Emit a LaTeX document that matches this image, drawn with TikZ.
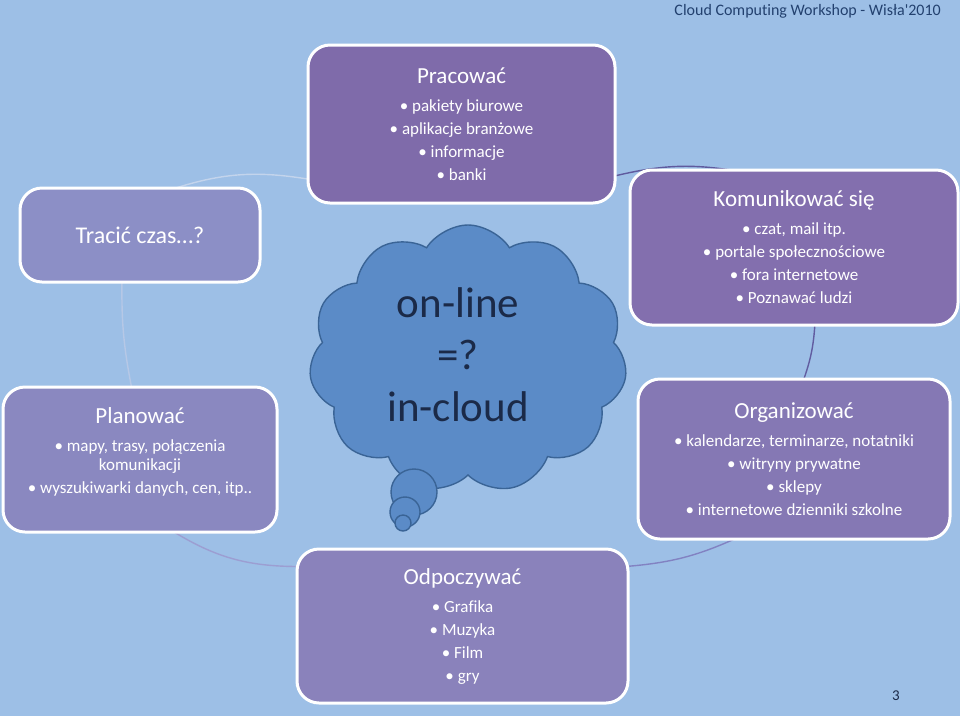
\documentclass[tikz,border=0pt]{standalone}
\usepackage{fontspec}
\setmainfont{Carlito}[Ligatures={TeXOff,NoCommon}]
\usetikzlibrary{shapes.symbols}
\definecolor{bg}{HTML}{9DBFE6}
\definecolor{cprac}{HTML}{7F6BAA}
\definecolor{ckom}{HTML}{836FAE}
\definecolor{corg}{HTML}{8578B4}
\definecolor{codp}{HTML}{8A82BB}
\definecolor{cplan}{HTML}{8A88C0}
\definecolor{ctra}{HTML}{8C8FC6}
\definecolor{cloudfill}{HTML}{5B8BC7}
\definecolor{cloudline}{HTML}{3A6496}
\definecolor{cloudtext}{HTML}{1B2A48}
\definecolor{hdr}{HTML}{23416F}
\definecolor{arcA}{HTML}{C3D4EC}
\definecolor{arcB}{HTML}{B6C8E6}
\definecolor{arcC}{HTML}{9C9ED2}
\definecolor{arcD}{HTML}{8282C2}
\definecolor{arcE}{HTML}{615CA0}
\definecolor{arcF}{HTML}{5F5A9E}
\newcommand{\ttl}[1]{{\fontsize{23}{27}\selectfont #1}\\[9pt]}
\pgfdeclarelayer{paper}
\pgfdeclarelayer{arcs}
\pgfsetlayers{paper,arcs,main}
\begin{document}
\begin{tikzpicture}[x=1pt,y=-1pt,
  card/.style={rounded corners=22pt, draw=white, line width=3pt, text=white,
    align=center, inner sep=0pt, font=\fontsize{17}{19}\selectfont},
  cardtext/.style={text=white, align=center, inner sep=0pt, font=\fontsize{17}{19}\selectfont},
  arc/.style={line width=1.4pt},
  puff/.style={circle, draw=cloudline, fill=cloudfill, line width=1.4pt, inner sep=0pt}]
\begin{pgfonlayer}{paper}
\fill[bg] (0,0) rectangle (960,716);
\end{pgfonlayer}
\path[use as bounding box] (0,0) rectangle (960,716);

% boxes
\path
  (461.5,124) node[card, fill=cprac, minimum width=307pt, minimum height=158pt] (prac)
    {\ttl{Pracować}• pakiety biurowe\\[4pt] • aplikacje branżowe\\[4pt] • informacje\\[4pt] • banki}
  (794,247.5) node[card, fill=ckom, minimum width=328pt, minimum height=155pt] (kom)
    {\ttl{Komunikować się}• czat, mail itp.\\[4pt] • portale społecznościowe\\[4pt] • fora internetowe\\[4pt] • Poznawać ludzi}
  (794,459) node[card, fill=corg, minimum width=312pt, minimum height=160pt] (org)
    {\ttl{Organizować}• kalendarze, terminarze, notatniki\\[4pt] • witryny prywatne\\[4pt] • sklepy\\[4pt] • internetowe dzienniki szkolne}
  (462.5,626) node[card, fill=codp, minimum width=331pt, minimum height=154pt] (odp)
    {\ttl{Odpoczywać}• Grafika\\[4pt] • Muzyka\\[4pt] • Film\\[4pt] • gry}
  (140,459.5) node[card, fill=cplan, minimum width=274pt, minimum height=145pt] (plan) {}
  (140,452) node[cardtext] (plant)
    {\ttl{Planować}• mapy, trasy, połączenia\\ komunikacji\\[4pt] • wyszukiwarki danych, cen, itp..}
  (140,235) node[card, fill=ctra, minimum width=240pt, minimum height=94pt, font=\fontsize{24}{28}\selectfont] (tra)
    {Tracić czas…?};

% cycle arcs (behind boxes)
\begin{pgfonlayer}{arcs}
\draw[arc, arcA] ([xshift=28pt,yshift=-4pt]tra.north) to[bend left=14] ([xshift=4pt,yshift=25pt]prac.south west);
\draw[arc, arcF] ([xshift=-4pt,yshift=28pt]prac.south east) to[bend left=12] ([xshift=117pt,yshift=-4pt]kom.north west);
\draw[arc, arcE] ([xshift=21pt,yshift=4pt]kom.south) to[bend left=8] ([xshift=9pt,yshift=-4pt]org.north);
\draw[arc, arcD] ([xshift=-54pt,yshift=4pt]org.south) to[bend left=10] ([xshift=-4pt,yshift=-19pt]odp.north east);
\draw[arc, arcC] ([xshift=30pt,yshift=4pt]plan.south) to[bend right=16] ([xshift=4pt,yshift=-19pt]odp.north west);
\draw[arc, arcB] ([xshift=-18pt,yshift=4pt]tra.south) to[bend right=6] ([xshift=-8pt,yshift=-4pt]plan.north);
\end{pgfonlayer}

% thought cloud
\node[cloud, cloud puffs=11, cloud puff arc=115, aspect=1.2, draw=cloudline, fill=cloudfill,
  line width=1.4pt, minimum width=318pt, minimum height=268pt, inner sep=0pt] (cloud) at (468,359) {};
\node[puff, minimum size=46pt] (p1) at (414,492) {};
\node[puff, minimum size=30pt] (p2) at (405,512) {};
\node[puff, minimum size=16pt] (p3) at (403,523) {};
\node[text=cloudtext, align=center, font=\fontsize{43}{52}\selectfont] (ct) at (458,355)
  {on-line\\ =?\\ in-cloud};

% header and page number
\node[anchor=east, text=hdr, font=\fontsize{16}{18}\selectfont, inner sep=0pt] (hd) at (941,11)
  {Cloud Computing Workshop - Wisła'2010};
\node[text=cloudtext, font=\fontsize{15}{17}\selectfont, inner sep=0pt] (pg) at (896,696) {3};
\end{tikzpicture}
\end{document}
